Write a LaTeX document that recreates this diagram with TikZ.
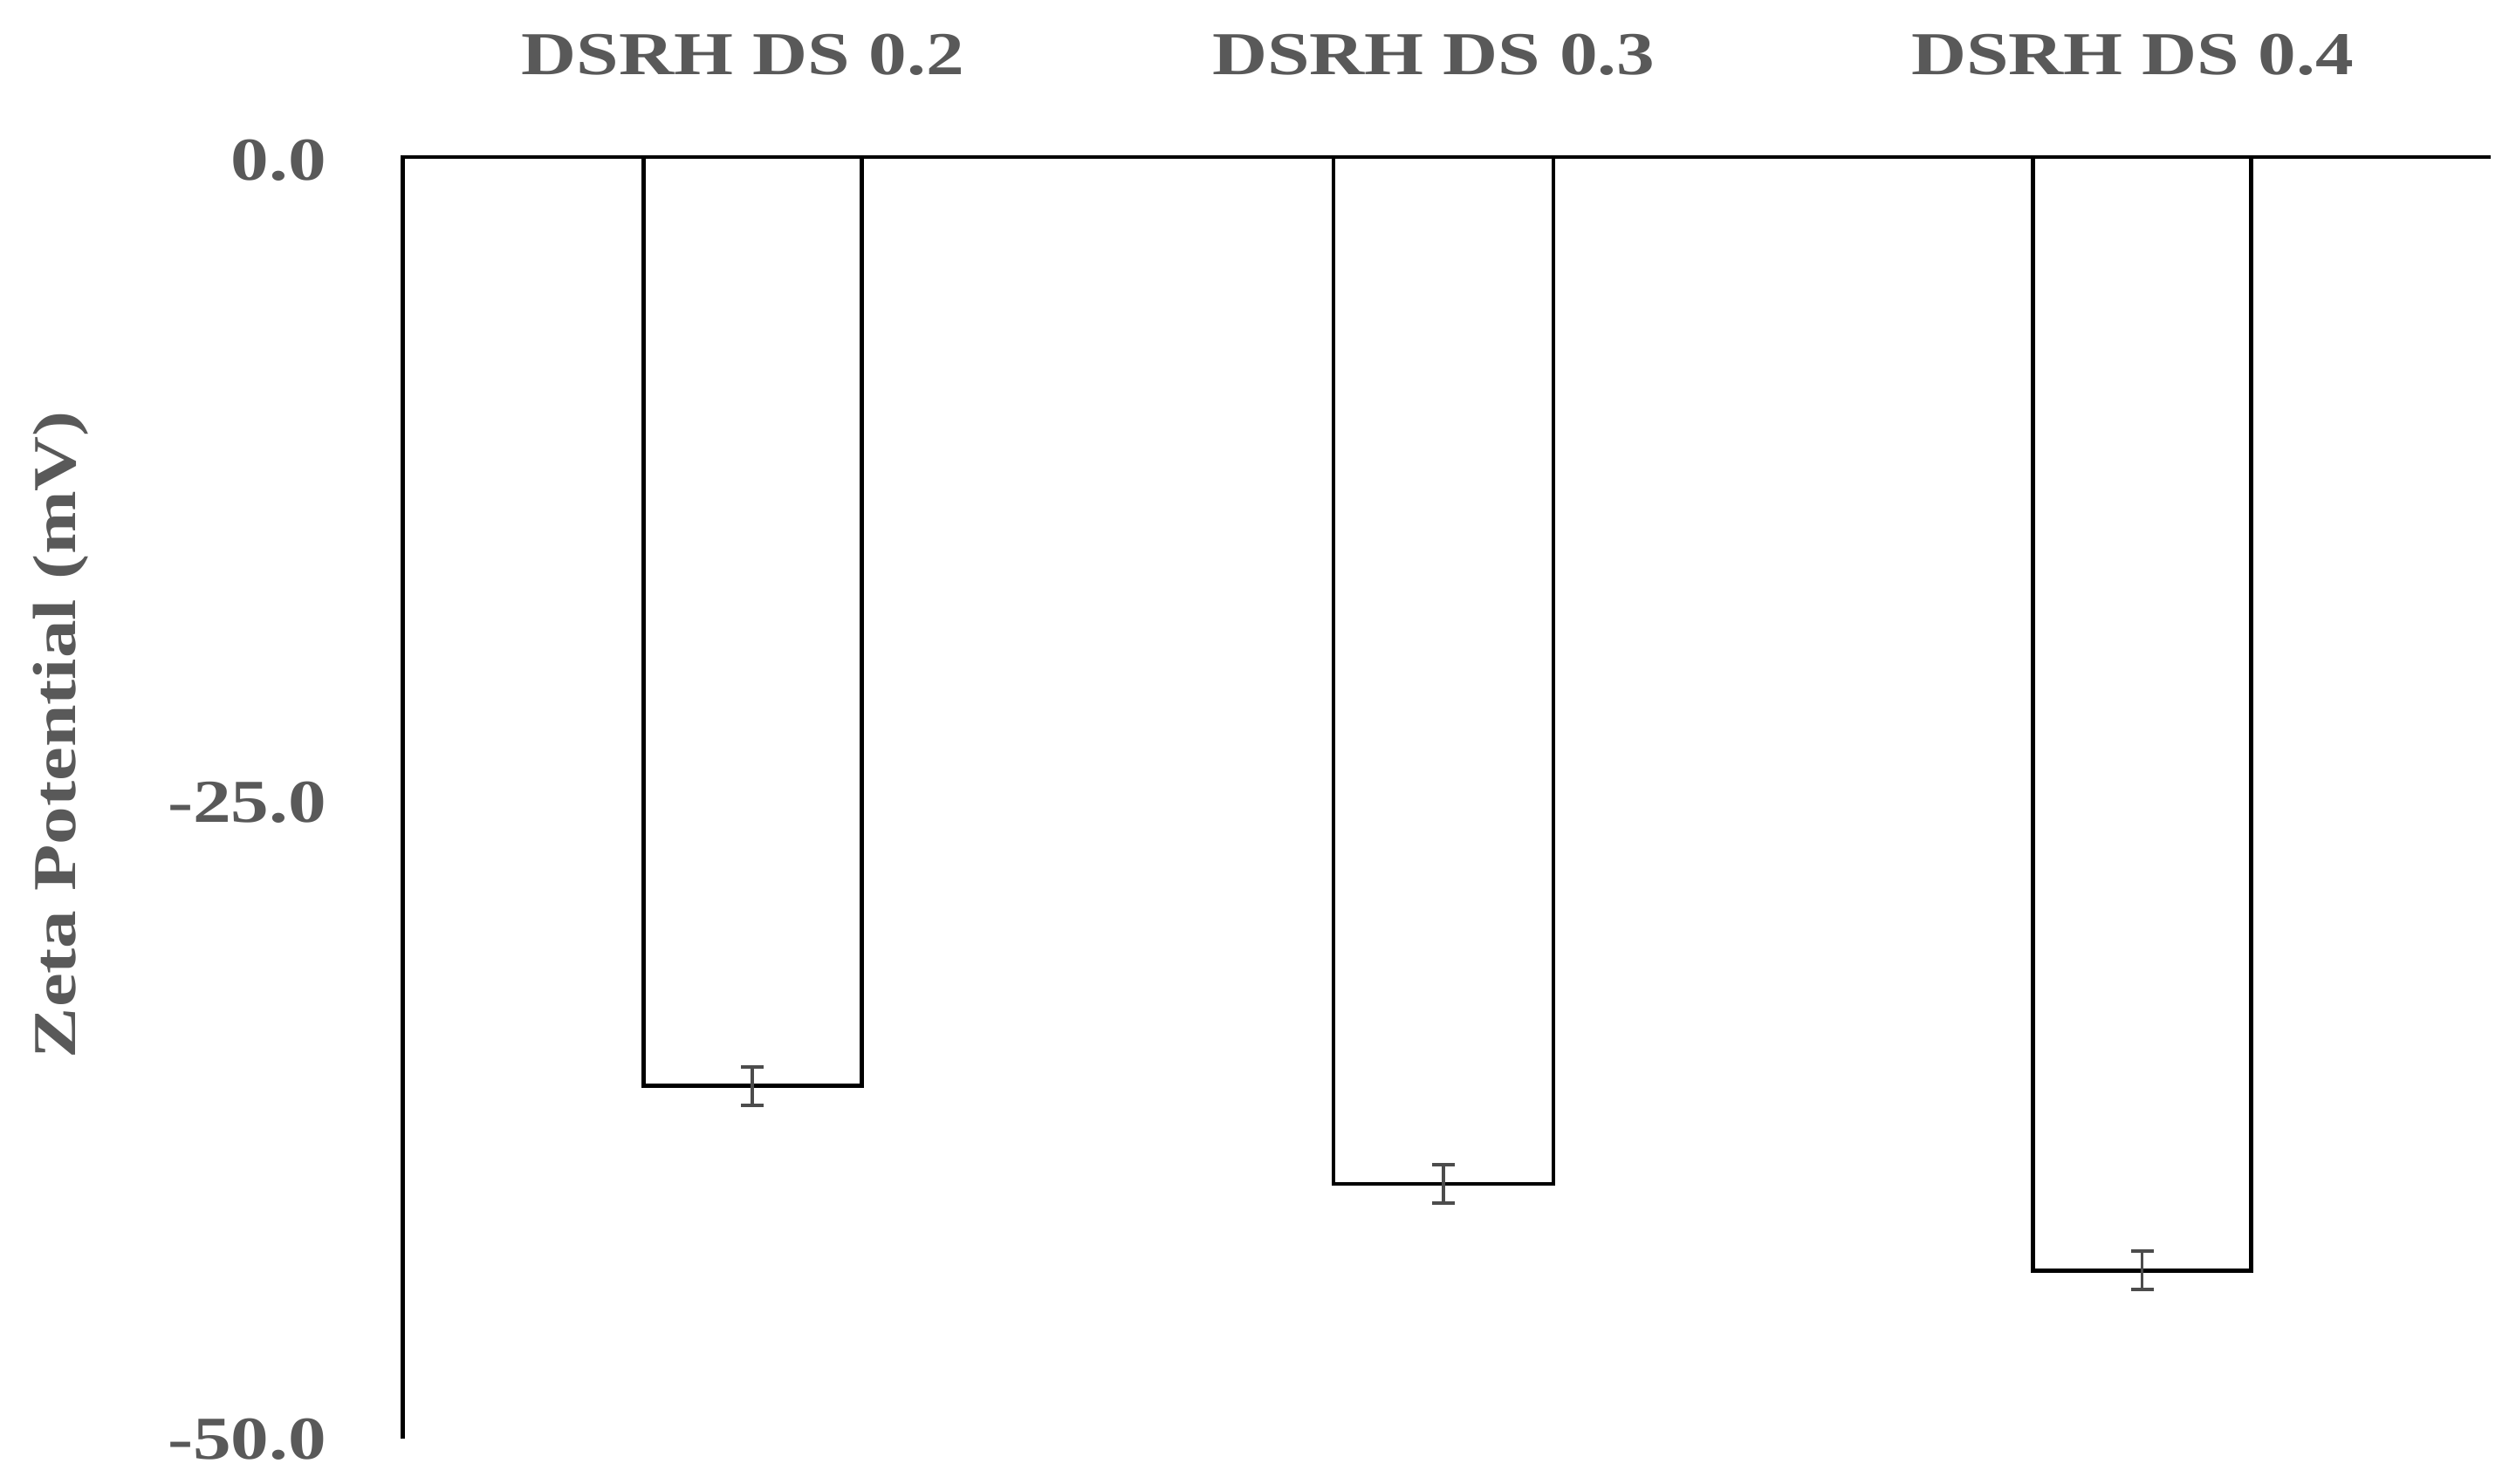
\documentclass[tikz,border=0pt]{standalone}
\usepackage{fontspec}
\setmainfont{Liberation Serif}
\newcommand{\wide}[1]{\scalebox{1.25}[1]{#1}}
\begin{document}
\begin{tikzpicture}[x=1pt,y=-1pt,
  lbl/.style={font=\fontsize{38}{40}\selectfont\bfseries, text=black!65},
  bar/.style={draw=black, line width=2.5pt, fill=white},
  err/.style={draw=black!70, line width=2pt}]
\useasboundingbox (0,0) rectangle (1568,925);
\draw[line width=2.5pt] (251,897) -- (251,98) -- (1552,98);
\node[lbl,anchor=east] (t0) at (207,100) {\wide{0.0}};
\node[lbl,anchor=east] (t1) at (207,500) {\wide{-25.0}};
\node[lbl,anchor=east] (t2) at (207,897) {\wide{-50.0}};
\node[lbl,rotate=90] (yl) at (38,458) {\wide{Zeta Potential (mV)}};
\foreach \l/\r/\b/\n in {401/537/677/0.2, 831/968/738/0.3, 1267/1403/792/0.4}{
  \draw[bar] (\l,98) rectangle (\r,\b);
  \pgfmathsetmacro\c{(\l+\r)/2}
  \draw[err] (\c,\b-12) -- (\c,\b+12) (\c-7,\b-12) -- (\c+7,\b-12) (\c-7,\b+12) -- (\c+7,\b+12);
  \node[lbl] at (\c-6,34) {\wide{DSRH DS \n}};
}
\end{tikzpicture}
\end{document}
